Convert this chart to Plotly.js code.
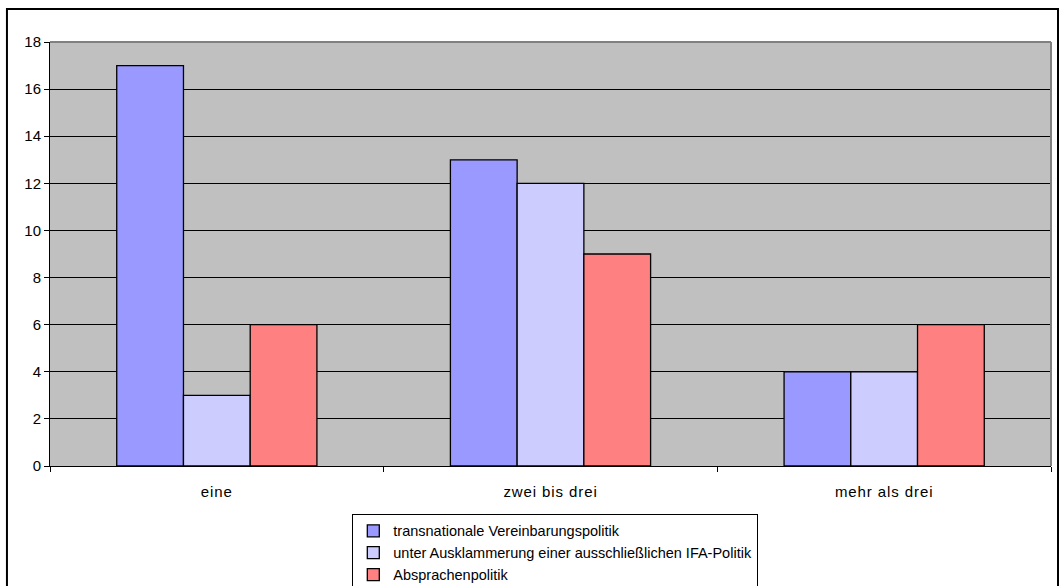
<!DOCTYPE html>
<html>
<head>
<meta charset="utf-8">
<script src="https://cdn.plot.ly/plotly-3.0.1.min.js"></script>
<style>
html,body{margin:0;padding:0;background:#fff;}
#chart{width:1059px;height:586px;}
#chart .xtick text { letter-spacing: 0.9px; }
</style>
</head>
<body>
<div id="chart"></div>
<script>
const categories = ["eine", "zwei bis drei", "mehr als drei"];
const seriesNames = ["transnationale Vereinbarungspolitik", "unter Ausklammerung einer ausschließlichen IFA-Politik", "Absprachenpolitik"];
const transnational = [17, 13, 4];
const unterAusklammerung = [3, 12, 4];
const absprachen = [6, 9, 6];
const colors = ["#9999FF", "#CCCCFF", "#FF8080"];
const yTicks = [0, 2, 4, 6, 8, 10, 12, 14, 16, 18];

const values = [transnational, unterAusklammerung, absprachen];
const data = values.map((v, i) => ({
  type: "bar",
  name: seriesNames[i],
  x: categories,
  y: v,
  marker: {color: colors[i], line: {color: "#000000", width: 1.3}},
  hoverinfo: "x+y+name"
}));

const layout = {
  width: 1059,
  height: 586,
  margin: {l: 50, r: 8, t: 42, b: 120, autoexpand: false},
  paper_bgcolor: "#FFFFFF",
  plot_bgcolor: "#C0C0C0",
  font: {family: "Liberation Sans, Arial, sans-serif", size: 15, color: "#000000"},
  barmode: "group",
  bargap: 0.4,
  bargroupgap: 0,
  showlegend: true,
  legend: {
    orientation: "v",
    x: 0.302, xanchor: "left",
    y: -0.113, yanchor: "top",
    bordercolor: "#000000", borderwidth: 1,
    bgcolor: "#FFFFFF",
    font: {size: 14.5},
    tracegroupgap: 0,
    itemwidth: 30
  },
  xaxis: {
    type: "category",
    showgrid: false,
    ticks: "outside",
    tickson: "boundaries",
    ticklen: 5,
    tickcolor: "#000000",
    showline: true,
    linecolor: "#000000",
    linewidth: 1,
    tickfont: {size: 15},
    ticklabelstandoff: 12,
    zeroline: false,
    fixedrange: true
  },
  yaxis: {
    range: [0, 18],
    tickvals: yTicks,
    ticktext: yTicks.map(String),
    showgrid: true,
    gridcolor: "#000000",
    gridwidth: 1,
    ticks: "outside",
    ticklen: 5,
    tickcolor: "#000000",
    showline: true,
    linecolor: "#000000",
    linewidth: 1,
    zeroline: false,
    tickfont: {size: 15},
    fixedrange: true
  },
  shapes: [
    {type: "line", xref: "paper", yref: "paper", x0: 0, x1: 1, y0: 1, y1: 1, line: {color: "#808080", width: 2}},
    {type: "line", xref: "paper", yref: "paper", x0: 1, x1: 1, y0: 0, y1: 1, line: {color: "#808080", width: 2}},
    {type: "rect", xref: "paper", yref: "paper", x0: -0.043, x1: 1.007, y0: -0.3, y1: 1.078, line: {color: "#000000", width: 2}, fillcolor: "rgba(0,0,0,0)", layer: "below"}
  ]
};

Plotly.newPlot("chart", data, layout, {displayModeBar: false, staticPlot: true});
</script>
</body>
</html>
